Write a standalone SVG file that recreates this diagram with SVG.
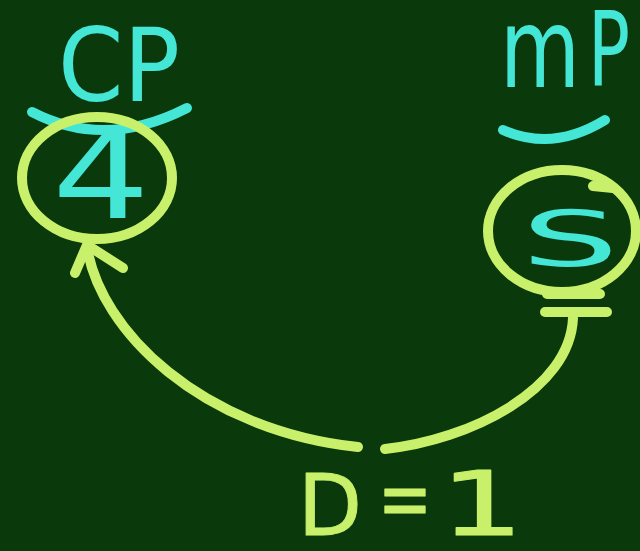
<svg xmlns="http://www.w3.org/2000/svg" width="640" height="551" viewBox="0 0 640 551">
<defs>
<style>
.yl{fill:none;stroke:#c9f06a;stroke-width:10;stroke-linecap:round;stroke-linejoin:round}
.cy{fill:none;stroke:#44e6d6;stroke-width:10;stroke-linecap:round;stroke-linejoin:round}
.tc{fill:#44e6d6;font-family:"DejaVu Sans",sans-serif}
.ty{fill:#c9f06a;stroke:#c9f06a;stroke-width:1;stroke-linejoin:round;font-family:"DejaVu Sans",sans-serif}
</style>
</defs>
<rect width="640" height="551" fill="#0a390b"/>
<g id="node-cp">
<path class="cy" d="M32,112 Q105,150 187,108"/>
<text class="tc" x="58" y="101" font-size="102" textLength="122" lengthAdjust="spacingAndGlyphs">CP</text>
<ellipse class="yl" cx="97" cy="178" rx="75" ry="61"/>
<text class="tc" x="52" y="218" font-size="122" textLength="98" lengthAdjust="spacingAndGlyphs">4</text>
</g>
<g id="node-mp">
<text class="tc" x="500" y="87" font-size="110" textLength="80" lengthAdjust="spacingAndGlyphs">m</text>
<text class="tc" x="588" y="85" font-size="104" textLength="42" lengthAdjust="spacingAndGlyphs">P</text>
<path class="cy" d="M503,130 Q553,152 605,120"/>
<ellipse class="yl" cx="562" cy="231" rx="74" ry="61"/>
<path class="yl" d="M593,186 L613,188 M547,294 L600,294"/>
<text class="tc" x="521" y="266" font-size="76" textLength="98" lengthAdjust="spacingAndGlyphs">S</text>
</g>
<g id="connectors">
<path class="yl" d="M87,247 C100,330 200,430 358,447"/>
<path class="yl" d="M75,273 L87,245 L123,268"/>
<path class="yl" d="M385,449 C470,440 570,390 573,318"/>
<path class="yl" d="M545,312 L607,312"/>
</g>
<g id="label-d">
<text class="ty" x="298" y="535" font-size="86" textLength="64" lengthAdjust="spacingAndGlyphs">D</text>
<text class="ty" x="378" y="528" font-size="86" textLength="54" lengthAdjust="spacingAndGlyphs">=</text>
<text class="ty" x="440" y="535" font-size="89" textLength="84" lengthAdjust="spacingAndGlyphs">1</text>
</g>
</svg>
